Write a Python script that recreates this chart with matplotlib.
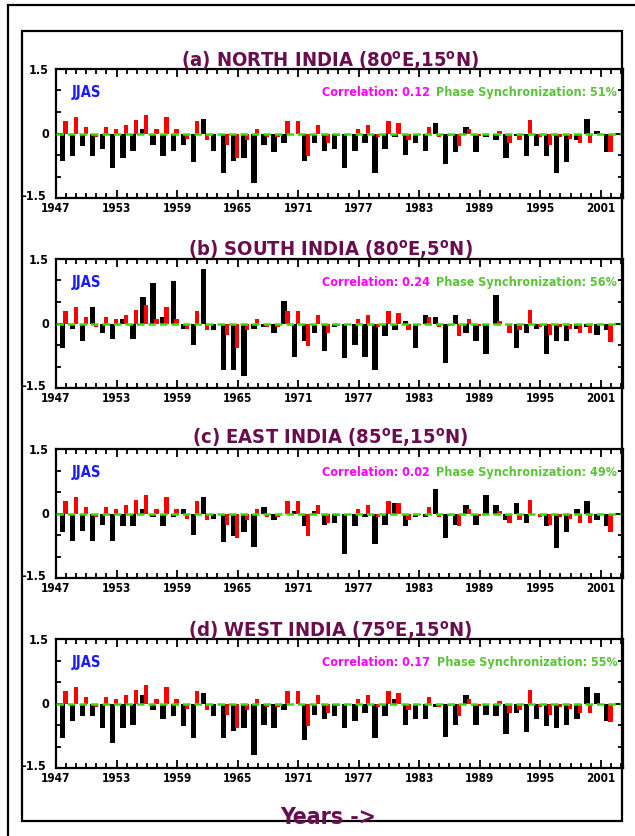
import numpy as np
import matplotlib
matplotlib.use("Agg")
import matplotlib.pyplot as plt
import matplotlib.font_manager as fm
import matplotlib.transforms as mtransforms
from matplotlib.patches import Rectangle
from matplotlib.ticker import MultipleLocator


def _weight(f):
    w = f.weight
    return fm.weight_dict.get(w, 400) if isinstance(w, str) else int(w)


# pick a bold narrow sans face if one is installed
narrow = None
for f in fm.fontManager.ttflist:
    st = str(f.stretch)
    is_narrow = ("Narrow" in f.name or "Condensed" in f.name
                 or st in ("condensed", "semi-condensed", "extra-condensed"))
    if is_narrow and _weight(f) >= 700:
        narrow = f.name
        break
base = narrow if narrow else "Liberation Sans"
plt.rcParams["font.family"] = [base, "Liberation Sans", "DejaVu Sans"]
if narrow:
    plt.rcParams["font.stretch"] = "condensed"
plt.rcParams["font.weight"] = "bold"
plt.rcParams["mathtext.fontset"] = "custom"
plt.rcParams["mathtext.rm"] = base + ":bold"
plt.rcParams["mathtext.bf"] = base + ":bold"
scale = 1.0 if narrow else 0.95

# ---------------------------------------------------------------- data
years = np.arange(1947, 2002)

# common index (red), same in every region
index_jjas = [0.29, 0.39, 0.15, -0.07, 0.15, 0.11, 0.20, 0.31, 0.43, 0.11,
              0.39, 0.11, -0.12, 0.29, -0.16, 0.0, -0.26, -0.58, -0.16, 0.11,
              -0.07, -0.07, 0.29, 0.29, -0.53, 0.20, -0.21, -0.05, -0.04, 0.11,
              0.20, -0.07, 0.29, 0.25, -0.16, -0.03, 0.15, -0.07, -0.05, -0.30,
              0.11, -0.05, 0.0, 0.06, -0.21, -0.16, 0.31, -0.07, -0.26, -0.07,
              -0.12, -0.21, -0.21, -0.02, -0.44]

# regional rainfall anomalies (black)
north = [-0.63, -0.53, -0.30, -0.53, -0.35, -0.81, -0.58, -0.40, 0.11, -0.26,
         -0.53, -0.40, -0.26, -0.67, 0.34, -0.40, -0.91, -0.63, -0.58, -1.14,
         -0.26, -0.44, -0.21, 0.0, -0.63, -0.21, -0.40, -0.35, -0.81, -0.40,
         -0.21, -0.91, -0.35, -0.07, -0.49, -0.21, -0.40, 0.25, -0.72, -0.44,
         0.15, -0.44, -0.07, -0.16, -0.58, -0.05, -0.53, -0.30, -0.53, -0.91,
         -0.67, -0.16, 0.34, 0.06, -0.44]
south = [-0.58, -0.12, -0.40, 0.39, -0.21, -0.35, 0.11, -0.35, 0.62, 0.95,
         0.15, 0.99, -0.12, -0.49, 1.27, -0.16, -1.09, -1.09, -1.23, -0.12,
         -0.07, -0.21, 0.53, -0.77, -0.40, -0.21, -0.63, -0.07, -0.81, -0.49,
         -0.77, -1.09, -0.30, -0.16, 0.06, -0.58, 0.20, 0.15, -0.91, 0.20,
         -0.21, -0.40, -0.72, 0.67, -0.02, -0.58, -0.21, -0.12, -0.72, -0.40,
         -0.40, -0.12, -0.07, -0.26, -0.16]
east = [-0.44, -0.63, -0.40, -0.63, -0.26, -0.63, -0.30, -0.30, 0.11, -0.07,
        -0.30, -0.07, 0.11, -0.49, 0.39, -0.12, -0.67, -0.53, -0.44, -0.77,
        0.15, -0.16, 0.0, 0.06, -0.30, 0.06, -0.26, -0.21, -0.95, -0.30,
        -0.07, -0.72, -0.26, 0.25, -0.30, -0.07, -0.07, 0.57, -0.58, -0.26,
        0.20, -0.26, 0.43, 0.20, -0.16, 0.25, -0.21, 0.0, -0.30, -0.81,
        -0.44, 0.11, 0.29, -0.16, -0.30]
west = [-0.81, -0.40, -0.30, -0.30, -0.58, -0.91, -0.58, -0.49, 0.20, -0.16,
        -0.35, -0.30, -0.53, -0.81, 0.25, -0.30, -0.81, -0.63, -0.58, -1.19,
        -0.49, -0.58, -0.16, 0.0, -0.86, -0.26, -0.35, -0.30, -0.58, -0.40,
        -0.21, -0.81, -0.30, 0.11, -0.49, -0.35, -0.35, -0.07, -0.77, -0.49,
        0.20, -0.49, -0.26, -0.30, -0.72, -0.21, -0.67, -0.35, -0.53, -0.58,
        -0.49, -0.35, 0.39, 0.25, -0.40]

titles = [r"(a) NORTH INDIA (80$^{\mathbf{o}}$E,15$^{\mathbf{o}}$N)",
          r"(b) SOUTH INDIA (80$^{\mathbf{o}}$E,5$^{\mathbf{o}}$N)",
          r"(c) EAST INDIA (85$^{\mathbf{o}}$E,15$^{\mathbf{o}}$N)",
          r"(d) WEST INDIA (75$^{\mathbf{o}}$E,15$^{\mathbf{o}}$N)"]
season_labels = ["JJAS", "JJAS", "JJAS", "JJAS"]
correlations = ["0.12", "0.24", "0.02", "0.17"]
phase_sync = ["51%", "56%", "49%", "55%"]
regions = [north, south, east, west]
year_ticks = np.arange(1947, 2002, 6)

# ---------------------------------------------------------------- layout
W, H = 635, 836
PURPLE = "#6a0d4f"
GREEN_TXT = "#5cc23a"

fig = plt.figure(figsize=(W / 100, H / 100), dpi=100)

# outer and inner frames
fig.add_artist(Rectangle((8 / W, -0.1), 1.2, (H - 5) / H + 0.1, transform=fig.transFigure,
                         fill=False, lw=1.6, ec="black"))
fig.add_artist(Rectangle((22 / W, 1 - 821 / H), 600 / W, 790 / H, transform=fig.transFigure,
                         fill=False, lw=1.6, ec="black"))

ax_left, ax_right = 56, 623
tops = [69, 259, 449, 639]
ax_h = 129
title_base = [67, 256, 444, 637]

for k in range(4):
    top = tops[k]
    ax = fig.add_axes([ax_left / W, 1 - (top + ax_h) / H,
                       (ax_right - ax_left) / W, ax_h / H])
    ax.bar(years + 0.62, regions[k], width=0.54, color="black", zorder=2)
    ax.bar(years + 0.95, index_jjas, width=0.42, color="#ff0000", zorder=3)
    ax.axhline(0, color="#33e000", lw=1.8, ls=(0, (3, 1.6)), zorder=4)

    ax.set_xlim(1947, 2003.2)
    ax.set_ylim(-1.5, 1.5)
    ax.set_yticks([-1.5, 0, 1.5])
    ax.set_yticklabels(["-1.5", "0", "1.5"])
    ax.yaxis.set_minor_locator(MultipleLocator(0.5))
    ax.set_xticks(year_ticks)
    ax.set_xticklabels([str(y) for y in year_ticks])
    ax.xaxis.set_minor_locator(MultipleLocator(1))
    ax.tick_params(which="both", direction="in", top=True, right=True, width=1.3)
    ax.tick_params(axis="x", labelsize=8.5 * scale, pad=3)
    ax.tick_params(axis="y", labelsize=9 * scale, pad=5)
    ax.tick_params(which="major", length=6)
    ax.tick_params(which="minor", length=3.5)
    # lift the bottom value label a touch so it sits clear of the first year
    low = ax.yaxis.get_major_ticks()[0].label1
    low.set_transform(low.get_transform() +
                      mtransforms.ScaledTranslation(-2 / 72, 2 / 72, fig.dpi_scale_trans))
    for s in ax.spines.values():
        s.set_linewidth(1.6)

    ax.text(0.028, 0.82, season_labels[k], transform=ax.transAxes, color="#1a1aff",
            fontsize=10.5 * scale, fontweight="bold", va="center", ha="left")
    ax.text(0.469, 0.82, "Correlation: " + correlations[k], transform=ax.transAxes,
            color="#ff00ff", fontsize=9 * scale, fontweight="bold", va="center", ha="left")
    ax.text(0.99, 0.82, "Phase Synchronization: " + phase_sync[k], transform=ax.transAxes,
            color=GREEN_TXT, fontsize=9 * scale, fontweight="bold", va="center", ha="right")

    fig.text(330 / W, 1 - title_base[k] / H, titles[k], color=PURPLE, fontsize=14.5 * scale,
             fontweight="bold", ha="center", va="baseline", zorder=5)

fig.text(328 / W, 1 - 824 / H, "Years ->", color=PURPLE, fontsize=16.5 * scale,
         fontweight="bold", ha="center", va="baseline", zorder=5)

fig.savefig("out.png", dpi=100)
